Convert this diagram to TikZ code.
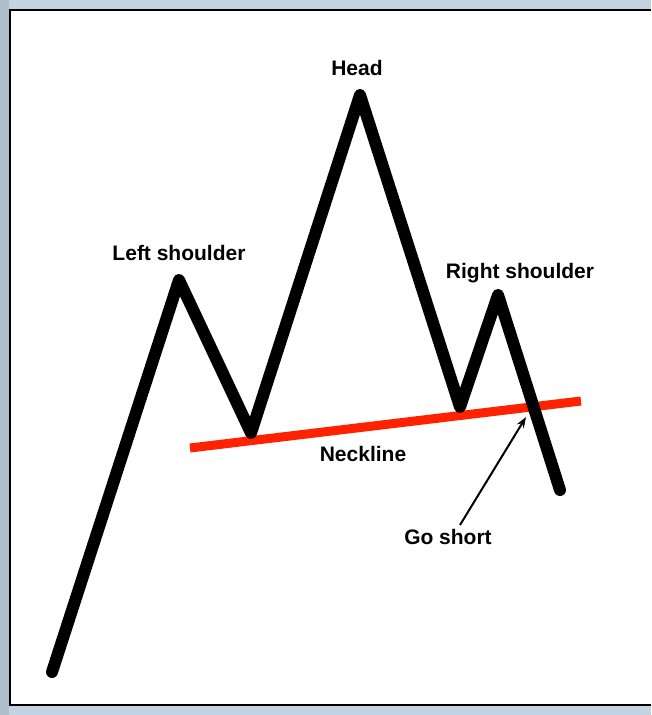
\documentclass[tikz,border=0pt]{standalone}
\usepackage{fontspec}
\setmainfont{Liberation Sans}
\usetikzlibrary{arrows.meta}
\definecolor{bgblue}{HTML}{C3D3DF}
\definecolor{bgside}{HTML}{AEBECA}
\definecolor{neckred}{HTML}{FF2200}
\tikzset{
  lbl/.style={font=\fontsize{21}{24}\selectfont\bfseries, inner sep=0pt},
  price/.style={line width=12pt, line cap=round, line join=round, black},
  neck/.style={line width=9pt, neckred},
  pointer/.style={line width=2pt, -{Stealth[length=11pt,width=8pt]}}
}
\begin{document}
\begin{tikzpicture}[x=1pt,y=-1pt]
\useasboundingbox (0,0) rectangle (651,715);
\fill[bgblue] (0,0) rectangle (651,715);
\fill[bgside] (0,0) rectangle (9,715);
\fill[white] (10,10) rectangle (651,705);
\draw[line width=2pt] (651,10) -- (10,10) -- (10,705) -- (651,705);
% price path points
\coordinate (p0) at (52,672);
\coordinate (ls) at (179,280);
\coordinate (t1) at (251,433);
\coordinate (hd) at (360,95);
\coordinate (t2) at (460,407);
\coordinate (rs) at (498,295);
\coordinate (p6) at (560,490);
% neckline
\coordinate (n1) at (190,448);
\coordinate (n2) at (581,401);
\draw[neck] (n1) -- (n2);
\draw[price] (p0) -- (ls) -- (t1) -- (hd) -- (t2) -- (rs) -- (p6);
% labels
\node[lbl] (lhead) at (357,68) {Head};
\node[lbl] (lleft) at (179,253) {Left shoulder};
\node[lbl] (lright) at (520,273) {Right shoulder};
\node[lbl] (lneck) at (363,454) {Neckline};
\node[lbl] (lgo) at (448,537) {Go short};
\coordinate (tip) at (526,417);
\coordinate (tail) at (460,525);
\draw[pointer] (tail) -- (tip);
\end{tikzpicture}
\end{document}
